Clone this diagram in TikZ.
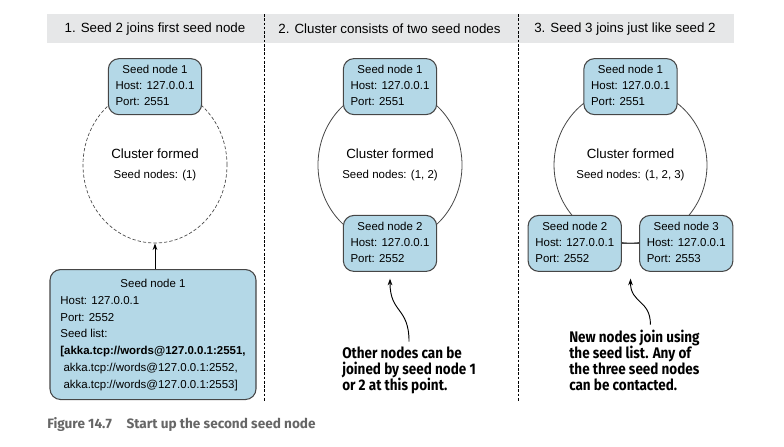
\documentclass[tikz,border=0pt]{standalone}
\usepackage{fontspec}
\setmainfont{Liberation Sans}
\newfontfamily\notefont[FakeStretch=0.88]{Fira Sans}
\newfontfamily\capfont{Fira Sans}
\usepackage{xcolor}
\usepackage{tikz}
\usetikzlibrary{shapes.geometric,arrows.meta,positioning}
\definecolor{seedblue}{RGB}{180,216,231}
\definecolor{bandgray}{RGB}{230,231,232}
\definecolor{linegray}{RGB}{70,70,70}
\newcommand{\seedinfo}[2]{\begin{tabular}{@{}l@{}}\multicolumn{1}{@{}c@{}}{Seed node #1}\\Host: 127.0.0.1\\Port: #2\end{tabular}}
\newcommand{\clustertext}[1]{{\fontsize{10pt}{12pt}\selectfont Cluster formed}\\[3pt]Seed nodes: (#1)}

\begin{document}
\begin{tikzpicture}[x=0.75pt, y=-0.75pt, font=\fontsize{8.6pt}{12pt}\selectfont,
  seed/.style={draw=linegray, line width=0.8pt, fill=seedblue, rounded corners=8pt, minimum width=70pt, minimum height=42pt, inner sep=2pt},
  cluster/.style={ellipse, draw=linegray, line width=0.6pt, minimum width=108pt, minimum height=117pt, align=center, inner sep=0pt},
  title/.style={font=\fontsize{10pt}{12pt}\selectfont},
  note/.style={font=\notefont\bfseries\fontsize{11.5pt}{12pt}\selectfont, align=left, anchor=north west, inner sep=0pt},
  sep/.style={dash pattern=on 2pt off 1.2pt, line width=0.5pt},
  arr/.style={-{Stealth[length=5pt,width=3.5pt]}, line width=0.7pt}]
\useasboundingbox (0,0) rectangle (784,446);
% header band and panel borders
\fill[bandgray] (47,14) rectangle (734,43);
\node[title] (t1) at (155,29) {1. Seed 2 joins first seed node};
\node[title] (t2) at (389.5,29) {2. Cluster consists of two seed nodes};
\node[title] (t3) at (625,29) {3. Seed 3 joins just like seed 2};
\draw[sep] (264,14) -- (264,402);
\draw[sep] (518,14) -- (518,402);

% panel 1
\node[cluster, dash pattern=on 2.5pt off 1.5pt, line width=0.5pt] (cl1) at (155,165) {\clustertext{1}};
\node[seed] (s11) at (cl1.north) {\seedinfo{1}{2551}};
\node[seed, anchor=north, minimum width=154.5pt, minimum height=97.5pt, font=\fontsize{8.6pt}{12.6pt}\selectfont] (join) at (153,269) {\begin{tabular}{@{}l@{}}\multicolumn{1}{@{}c@{}}{Seed node 1}\\Host: 127.0.0.1\\Port: 2552\\Seed list:\\ \textbf{[akka.tcp://words@127.0.0.1:2551,}\\ \ akka.tcp://words@127.0.0.1:2552,\\ \ akka.tcp://words@127.0.0.1:2553]\end{tabular}};
\draw[arr] (join.north -| cl1.south) -- (cl1.south);

% panel 2
\node[cluster] (cl2) at (390,165) {\clustertext{1, 2}};
\node[seed] (s21) at (cl2.north) {\seedinfo{1}{2551}};
\node[seed] (s22) at (cl2.south) {\seedinfo{2}{2552}};
\node[note] (note2) at (342,347) {Other nodes can be\\joined by seed node 1\\or 2 at this point.};
\draw[arr] ([yshift=4pt]note2.north) .. controls +(0,-35) and +(0,35) .. ([yshift=-5pt]s22.south);

% panel 3
\node[cluster] (cl3) at (630.5,165) {\clustertext{1, 2, 3}};
\node[seed] (s31) at (cl3.north) {\seedinfo{1}{2551}};
\node[seed, anchor=east] (s32) at ([xshift=-6.4pt]cl3.south) {\seedinfo{2}{2552}};
\node[seed, right=12.8pt of s32] (s33) {\seedinfo{3}{2553}};
\draw[draw=linegray, line width=0.6pt] (s32) -- (s33);
\node[note] (note3) at (569,330) {New nodes join using\\the seed list. Any of\\the three seed nodes\\can be contacted.};
\draw[arr] ([xshift=12pt,yshift=4pt]note3.north) .. controls +(0,-25) and +(0,25) .. ([yshift=-5pt]cl3.south |- s32.south);

\node[anchor=west, inner sep=0pt, text=gray!80!black, font=\capfont\bfseries\fontsize{10.2pt}{12pt}\selectfont] (cap) at (47,424) {Figure 14.7\hspace{11pt}Start up the second seed node};
\end{tikzpicture}
\end{document}
